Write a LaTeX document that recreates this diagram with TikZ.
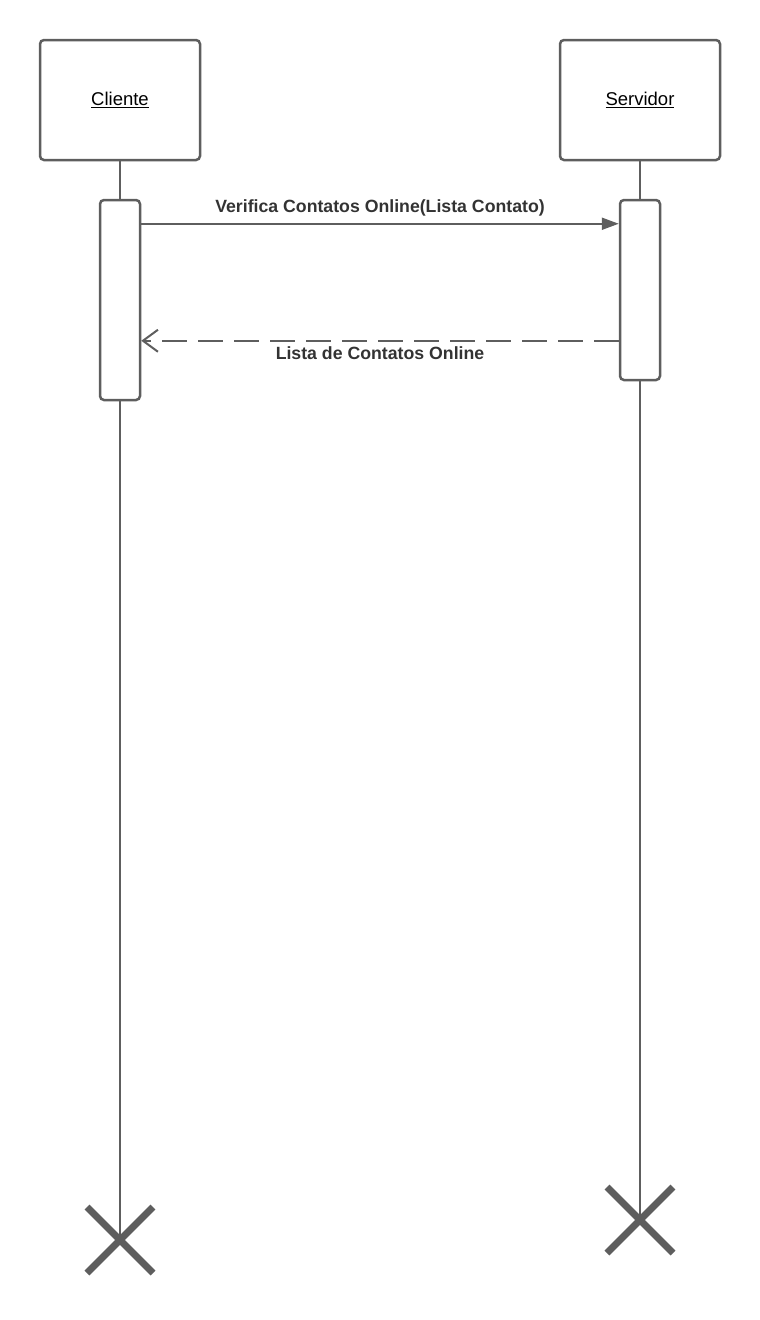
\documentclass[tikz,border=0pt]{standalone}
\usepackage{fontspec}
\setmainfont{Liberation Sans}
\usepackage{xcolor}
\usepackage{tikz}
\usetikzlibrary{arrows.meta,positioning,calc}
\definecolor{linha}{HTML}{5E5E5E}
\definecolor{texto}{HTML}{333333}
\tikzset{
    objeto/.style = {rectangle, rounded corners=4pt, minimum width=160pt, minimum height=120pt, text centered, draw=linha, line width=2.5pt, fill=white, font=\fontsize{18.5}{21}\selectfont, text=black},
    ativacao/.style = {rectangle, rounded corners=4pt, minimum width=40pt, text centered, draw=linha, line width=2.5pt, fill=white},
    vida/.style = {draw=linha, line width=2pt},
    chamada/.style = {draw=linha, line width=2pt, -{Triangle[length=17pt,width=12pt]}},
    retorno/.style = {draw=linha, line width=2pt, dash pattern=on 25pt off 11pt, -{Straight Barb[length=15pt,width=22pt,line width=2pt]}},
    rotulo/.style = {font=\bfseries\fontsize{17.7}{20}\selectfont, text=texto},
    fim/.style = {draw=linha, line width=7pt}
}
\begin{document}
\begin{tikzpicture}[x=1pt, y=-1pt]
    \useasboundingbox (0,0) rectangle (760,1320);

    \node [objeto] (cliente) at (120,100) {\underline{Cliente}};
    \node [objeto] (servidor) at (640,100) {\underline{Servidor}};
    \coordinate (fimCliente) at (120,1240);
    \coordinate (fimServidor) at (640,1220);

    \draw [vida] (cliente.south) -- (fimCliente);
    \draw [vida] (servidor.south) -- (fimServidor);

    \node [ativacao, minimum height=200pt] (ativCliente) at (120,300) {};
    \node [ativacao, minimum height=180pt] (ativServidor) at (640,290) {};

    % mensagens
    \draw [chamada] ([yshift=-25pt]ativCliente.north east) -- node[rotulo, above=3pt] {Verifica Contatos Online(Lista Contato)} ([yshift=-25pt]ativServidor.north west);
    \draw [retorno] ([yshift=-142pt]ativServidor.north west) -- node[rotulo, below=2pt] {Lista de Contatos Online} ([yshift=-142pt]ativCliente.north east);

    % destruicao
    \draw [fim] ($(fimCliente)+(-33,-33)$) -- ($(fimCliente)+(33,33)$);
    \draw [fim] ($(fimCliente)+(-33,33)$) -- ($(fimCliente)+(33,-33)$);
    \draw [fim] ($(fimServidor)+(-33,-33)$) -- ($(fimServidor)+(33,33)$);
    \draw [fim] ($(fimServidor)+(-33,33)$) -- ($(fimServidor)+(33,-33)$);
\end{tikzpicture}
\end{document}
